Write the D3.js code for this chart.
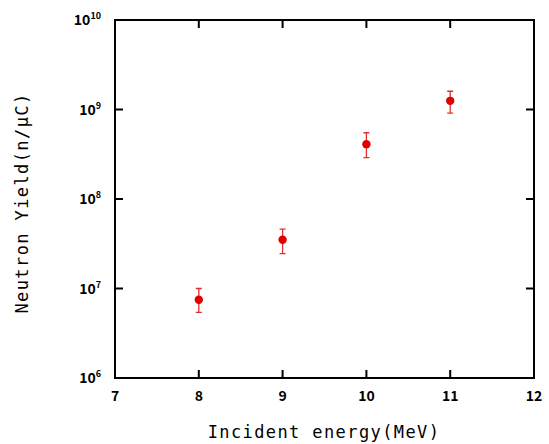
<!DOCTYPE html>
<html>
<head>
<meta charset="utf-8">
<script src="https://cdn.jsdelivr.net/npm/d3@7"></script>
<style>
  body { margin: 0; background: #fff; }
  text { font-family: "Noto Sans CJK JP", "DejaVu Sans", sans-serif; }
  .title { font-family: "DejaVu Sans Mono", "Liberation Mono", monospace; }
</style>
</head>
<body>
<div id="chart"></div>
<script>
// data
const energy = [8, 9, 10, 11];
const yieldVal = [7.5e6, 3.5e7, 4.1e8, 1.25e9];
const errLow = [5.4e6, 2.45e7, 2.9e8, 9.1e8];
const errHigh = [1.0e7, 4.6e7, 5.5e8, 1.6e9];
const xTicks = [7, 8, 9, 10, 11, 12];
const yTicks = [1e6, 1e7, 1e8, 1e9, 1e10];
const yExp = ['6', '7', '8', '9', '10'];

const width = 549;
const height = 444;
let [mt, mr, mb, ml] = [20, 15, 65, 115];

const svg = d3.select('#chart')
  .append('svg')
  .attr('width', width)
  .attr('height', height)

const graphWidth = width - ml - mr;
const graphHeight = height - mt - mb - 1;

const graph = svg.append('g')
  .attr('transform', `translate(${ml},${mt})`)

const x = d3.scaleLinear()
  .domain([7, 12])
  .range([0, graphWidth])

const y = d3.scaleLog()
  .domain([1e6, 1e10])
  .range([graphHeight, 0])

// frame
graph.append('rect')
  .attr('width', graphWidth)
  .attr('height', graphHeight)
  .attr('fill', 'none')
  .attr('stroke', '#000')
  .attr('stroke-width', 2)

const tk = 8;
// inward ticks on all four sides
graph.selectAll('.xt')
  .data(xTicks.slice(1, -1))
  .enter()
  .append('path')
  .attr('d', d => `M${x(d)},${graphHeight}v${-tk}M${x(d)},0v${tk}`)
  .attr('stroke', '#000')
  .attr('stroke-width', 2)
graph.selectAll('.yt')
  .data(yTicks.slice(1, -1))
  .enter()
  .append('path')
  .attr('d', d => `M0,${y(d)}h${tk}M${graphWidth},${y(d)}h${-tk}`)
  .attr('stroke', '#000')
  .attr('stroke-width', 2)

// tick labels
graph.selectAll('.xl')
  .data(xTicks)
  .enter()
  .append('text')
  .attr('x', d => x(d))
  .attr('y', graphHeight + 23)
  .attr('text-anchor', 'middle')
  .style('font-size', '14px')
  .style('font-weight', 'bold')
  .text(d => d)

const yl = graph.selectAll('.yl')
  .data(yTicks)
  .enter()
  .append('text')
  .attr('x', -14)
  .attr('y', d => y(d) + 5)
  .attr('text-anchor', 'end')
  .style('font-size', '14px')
  .style('font-weight', 'bold')
yl.append('tspan').text('10')
yl.append('tspan')
  .attr('dy', -6)
  .style('font-size', '9px')
  .text((d, i) => yExp[i])

// error bars
const errColor = '#e03030';
graph.selectAll('.err')
  .data(energy)
  .enter()
  .append('path')
  .attr('d', (d, i) => {
    const cx = x(d), y0 = y(errLow[i]), y1 = y(errHigh[i]);
    return `M${cx},${y0}V${y1}M${cx - 3},${y0}h6M${cx - 3},${y1}h6`;
  })
  .attr('stroke', errColor)
  .attr('stroke-width', 1.3)
  .attr('fill', 'none')

graph.selectAll('.pt')
  .data(energy)
  .enter()
  .append('circle')
  .attr('cx', d => x(d))
  .attr('cy', (d, i) => y(yieldVal[i]))
  .attr('r', 4.2)
  .attr('fill', '#e00000')

// axis titles
svg.append('text')
  .attr('class', 'title')
  .attr('x', 324)
  .attr('y', 438)
  .attr('text-anchor', 'middle')
  .style('font-size', '17px')
  .style('letter-spacing', '1.4px')
  .text('Incident energy(MeV)')

svg.append('text')
  .attr('class', 'title')
  .attr('transform', `translate(28,203) rotate(-90)`)
  .attr('text-anchor', 'middle')
  .style('font-size', '17px')
  .style('letter-spacing', '1.4px')
  .text('Neutron Yield(n/μC)')
</script>
</body>
</html>
